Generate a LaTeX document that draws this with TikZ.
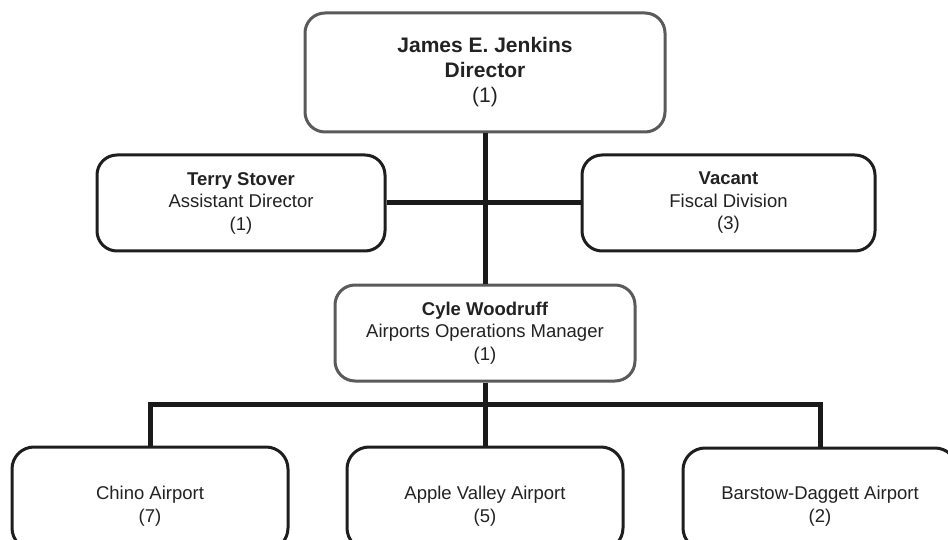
\documentclass[tikz,border=0pt]{standalone}
\usepackage{fontspec}
\setmainfont{Liberation Sans}
\definecolor{grayb}{HTML}{5A5A5A}
\definecolor{darkb}{HTML}{1E1E1E}
\definecolor{txtc}{HTML}{222222}
\definecolor{connc}{HTML}{1A1A1A}
\newcommand\bigf{\fontsize{21}{25}\selectfont}
\newcommand\smf{\fontsize{18.5}{22.5}\selectfont}
\begin{document}
\begin{tikzpicture}[x=1pt,y=-1pt,
  box/.style={draw=#1, line width=3pt, rounded corners=20pt, fill=white,
              inner sep=0pt, text=txtc, align=center},
  txt/.style={text=txtc, align=center, inner sep=0pt, font=\smf},
  conn/.style={line width=5pt, draw=connc}]
\useasboundingbox (0,0) rectangle (948,540);
\clip (0,0) rectangle (948,540);
% top
\node[box=grayb, minimum width=360pt, minimum height=119pt, font=\bigf]
  (jj) at (485,72.5) {\textbf{James E. Jenkins}\\\textbf{Director}\\(1)};
% second row
\node[box=darkb, minimum width=288pt, minimum height=96pt, font=\smf]
  (terry) at (241,203) {\textbf{Terry Stover}\\Assistant Director\\(1)};
\node[box=darkb, minimum width=293pt, minimum height=96pt, font=\smf]
  (vacant) at (728.5,203) {\textbf{Vacant}\\Fiscal Division\\(3)};
% manager
\node[box=grayb, minimum width=300pt, minimum height=96pt, font=\smf]
  (cyle) at (485,333) {\textbf{Cyle Woodruff}\\Airports Operations Manager\\(1)};
% bottom row
\node[box=darkb, rounded corners=22pt, minimum width=276pt, minimum height=103pt]
  (chino) at (150,498.5) {};
\node[box=darkb, rounded corners=22pt, minimum width=276pt, minimum height=103pt]
  (apple) at (485,498.5) {};
\node[box=darkb, rounded corners=22pt, minimum width=274pt, minimum height=102pt]
  (barstow) at (820,499) {};
\node[txt] (chinot) at (150,506) {Chino Airport\\(7)};
\node[txt] (applet) at (485,506) {Apple Valley Airport\\(5)};
\node[txt] (barstowt) at (820,506) {Barstow-Daggett Airport\\(2)};
% connectors
\coordinate (bus) at (485,404);
\draw[conn] (jj.south) -- (cyle.north);
\draw[conn] (terry.east) -- (vacant.west);
\draw[conn] (cyle.south) -- (apple.north);
\draw[conn] (chino.north) -- (chino.north |- bus) -- (barstow.north |- bus) -- (barstow.north);
\end{tikzpicture}
\end{document}
